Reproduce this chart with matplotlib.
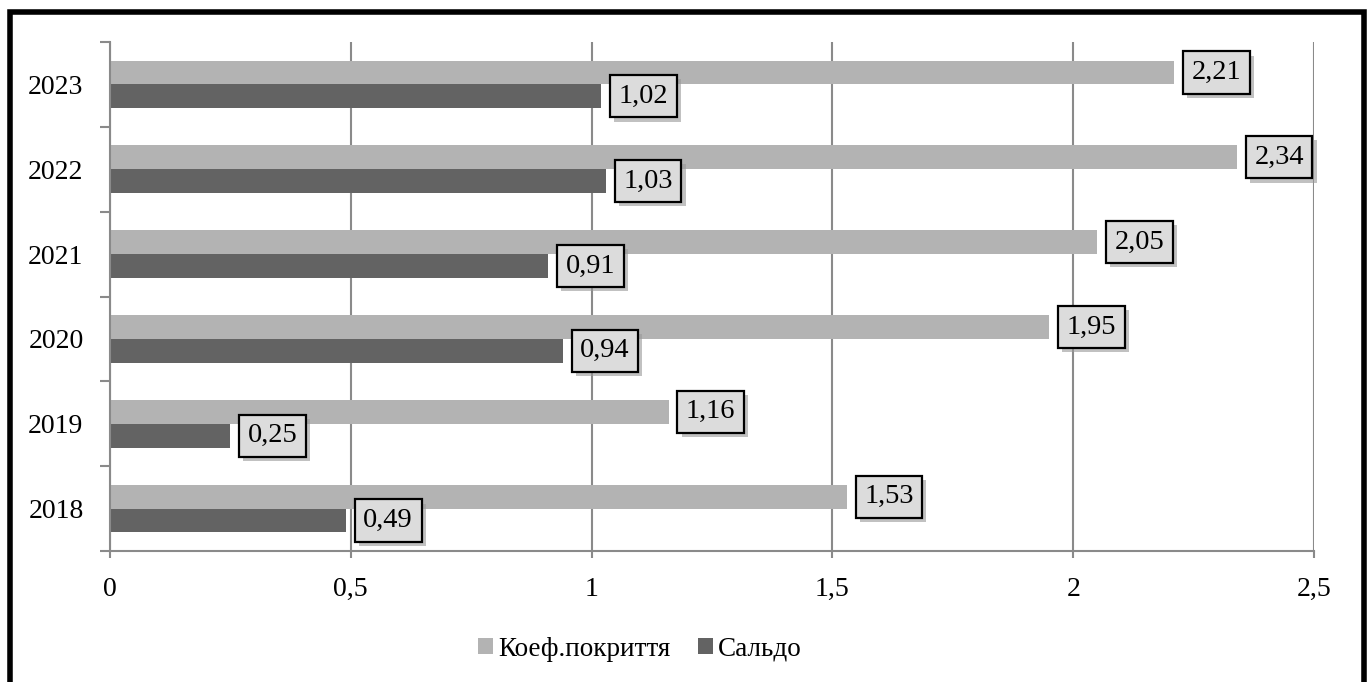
import matplotlib.pyplot as plt
import matplotlib.patheffects as pe
from matplotlib.patches import Rectangle
import numpy as np

years = ['2018', '2019', '2020', '2021', '2022', '2023']
coverage = [1.53, 1.16, 1.95, 2.05, 2.34, 2.21]   # Коеф.покриття
balance = [0.49, 0.25, 0.94, 0.91, 1.03, 1.02]    # Сальдо
xticks = [0, 0.5, 1, 1.5, 2, 2.5]
xtick_labels = ['0', '0,5', '1', '1,5', '2', '2,5']

plt.rcParams['font.family'] = ['Liberation Serif', 'DejaVu Serif']

light = '#b3b3b3'
dark = '#636363'
axis_gray = '#8a8a8a'

fig = plt.figure(figsize=(13.69, 6.82), dpi=100)
ax = fig.add_axes([110 / 1369, 1 - 551 / 682, 1204 / 1369, 509 / 682])

y = np.arange(len(years))
h = 0.28
b1 = ax.barh(y + h / 2, coverage, height=h, color=light, label='Коеф.покриття', zorder=3)
b2 = ax.barh(y - h / 2, balance, height=h, color=dark, label='Сальдо', zorder=3)

ax.set_xlim(0, 2.5)
ax.set_ylim(-0.5, len(years) - 0.5)

ax.set_xticks(xticks)
ax.set_xticklabels(xtick_labels, fontsize=20)
ax.set_yticks(y)
ax.set_yticklabels(years, fontsize=20)
ax.set_yticks(np.arange(-0.5, len(years)), minor=True)
ax.tick_params(axis='y', which='major', length=0, pad=19)
ax.tick_params(axis='y', which='minor', length=7, width=1.5, color=axis_gray, direction='out')
ax.tick_params(axis='x', which='major', length=5, width=1.5, color=axis_gray, pad=14)

ax.grid(axis='x', color=axis_gray, linewidth=1.5, zorder=0)
for side in ('top', 'right'):
    ax.spines[side].set_visible(False)
for side in ('left', 'bottom'):
    ax.spines[side].set_color(axis_gray)
    ax.spines[side].set_linewidth(1.5)
    ax.spines[side].set_zorder(4)

# value labels in shaded boxes
for bars, vals in ((b1, coverage), (b2, balance)):
    for rect, v in zip(bars, vals):
        t = ax.annotate(f'{v:.2f}'.replace('.', ','),
                        xy=(v, rect.get_y() + rect.get_height() / 2),
                        xytext=(12.5, 0), textcoords='offset points',
                        ha='left', va='center', fontsize=20.5, zorder=6,
                        bbox=dict(boxstyle='square,pad=0.3', fc='#dcdcdc',
                                  ec='black', lw=1.6))
        t.get_bbox_patch().set_path_effects([
            pe.SimplePatchShadow(offset=(3, -3), shadow_rgbFace='#999999', alpha=0.6),
            pe.Normal()])

fig.legend(handles=[b1, b2], loc='center', bbox_to_anchor=(0.4675, 0.048), ncol=2,
           frameon=False, fontsize=19.5, handlelength=0.55, handleheight=0.55,
           handletextpad=0.2, columnspacing=1.0)

# outer frame
fig.patches.append(Rectangle((10 / 1369, -0.05), 1354 / 1369, 1.05 - 12 / 682,
                             transform=fig.transFigure, fill=False,
                             ec='black', lw=4, zorder=10))

fig.savefig('out.png', dpi=100)
